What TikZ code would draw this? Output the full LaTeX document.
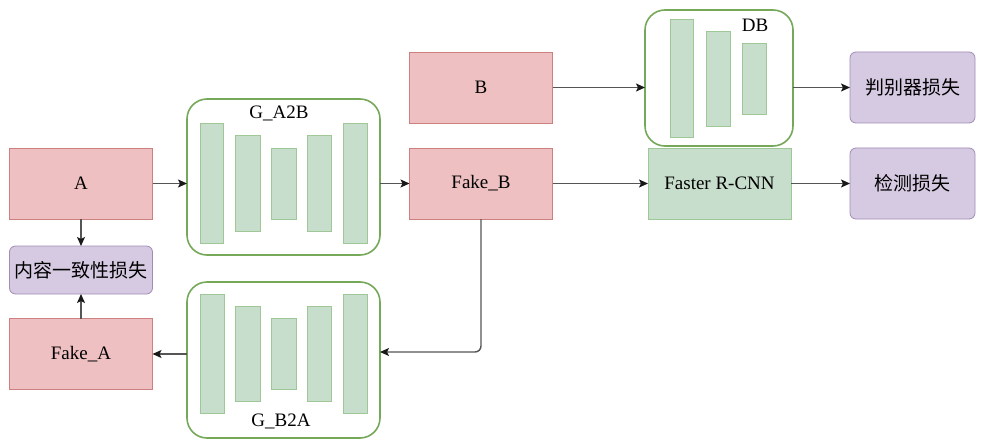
\documentclass[tikz,border=0pt]{standalone}
\usepackage{fontspec}
\setmainfont{Liberation Serif}
\newfontfamily\cjk{Noto Sans CJK SC}
\usetikzlibrary{arrows.meta}

\definecolor{redfill}{RGB}{238,192,193}
\definecolor{redline}{RGB}{204,128,128}
\definecolor{greenfill}{RGB}{200,222,204}
\definecolor{greenbar}{RGB}{160,200,150}
\definecolor{greenline}{RGB}{118,168,90}
\definecolor{purplefill}{RGB}{214,202,226}
\definecolor{purpleline}{RGB}{160,140,182}
\definecolor{arrowgray}{RGB}{85,85,85}
\definecolor{headgray}{RGB}{25,25,25}

\tikzset{
  box/.style={draw, line width=0.8pt, inner sep=0pt, outer sep=0pt,
    font=\fontsize{19}{22}\selectfont},
  databox/.style={box, fill=redfill, draw=redline,
    minimum width=143pt, minimum height=71pt},
  lossbox/.style={box, fill=purplefill, draw=purpleline, rounded corners=6pt,
    font=\cjk\fontsize{19}{22}\selectfont},
  netbox/.style={draw=greenline, line width=1.6pt, fill=white,
    rounded corners=20pt, inner sep=0pt, outer sep=0pt},
  detbox/.style={box, fill=greenfill, draw=greenbar,
    minimum width=143pt, minimum height=71pt},
  bar/.style={fill=greenfill, draw=greenbar, line width=0.7pt},
  netlabel/.style={font=\fontsize{19}{22}\selectfont, inner sep=0pt},
  arr/.style={draw=arrowgray, line width=1.4pt,
    -{Stealth[length=9pt,width=8pt,inset=2pt,color=headgray]}},
}

\begin{document}
\begin{tikzpicture}[x=1pt,y=-1pt]
\useasboundingbox (0,0) rectangle (985,441);

% image and loss boxes
\node[databox] (A) at (81,183.5) {A};
\node[lossbox, minimum width=143pt, minimum height=48pt] (cons) at (81,270) {内容一致性损失};
\node[databox] (FA) at (81,354) {Fake\_A};
\node[databox] (B) at (481,87.5) {B};
\node[databox] (FB) at (481,183.5) {Fake\_B};
\node[detbox] (RCNN) at (719.5,183.5) {Faster R-CNN};
\node[lossbox, minimum width=125pt, minimum height=71pt] (DL) at (912.5,87.5) {判别器损失};
\node[lossbox, minimum width=125pt, minimum height=71pt] (ML) at (912.5,183.5) {检测损失};

% generators and discriminator
\node[netbox, minimum width=193pt, minimum height=156pt] (GAB) at (283.5,177) {};
\node[netbox, minimum width=193pt, minimum height=156pt] (GBA) at (283.5,360) {};
\node[netbox, minimum width=148pt, minimum height=136pt] (DB) at (719,78) {};

% encoder-decoder layers of G_A2B
\draw[bar] (200,123) rectangle (223,243);
\draw[bar] (235,135) rectangle (260,231);
\draw[bar] (271,148) rectangle (296,219);
\draw[bar] (307,135) rectangle (331,231);
\draw[bar] (343,123) rectangle (367,243);
\node[netlabel] (labAB) at (279,113) {G\_A2B};

% encoder-decoder layers of G_B2A
\draw[bar] (200,294) rectangle (224,413);
\draw[bar] (235,306) rectangle (260,401);
\draw[bar] (271,318) rectangle (296,389);
\draw[bar] (307,306) rectangle (331,401);
\draw[bar] (343,294) rectangle (367,413);
\node[netlabel] (labBA) at (281,421) {G\_B2A};

% discriminator layers
\draw[bar] (670,19) rectangle (693,137);
\draw[bar] (706,31) rectangle (730,126);
\draw[bar] (742,43) rectangle (766,114);
\node[netlabel] (labDB) at (755,25) {DB};

% connectors
\draw[arr] (A.east) -- (A.east -| GAB.west);
\draw[arr] (GAB.east |- FB.west) -- (FB.west);
\draw[arr] (A.south) -- (cons.north);
\draw[arr] (FA.north) -- (cons.south);
\draw[arr] (B.east) -- (B.east -| DB.west);
\draw[arr] (DB.east |- DL.west) -- (DL.west);
\draw[arr] (FB.east) -- (RCNN.west);
\draw[arr] (RCNN.east) -- (ML.west);
\coordinate (bend) at (GBA.east |- 0,352);
\draw[arr, rounded corners=6pt] (FB.south) |- (bend);
\draw[arr] (GBA.west |- FA.east) -- (FA.east);
\end{tikzpicture}
\end{document}
